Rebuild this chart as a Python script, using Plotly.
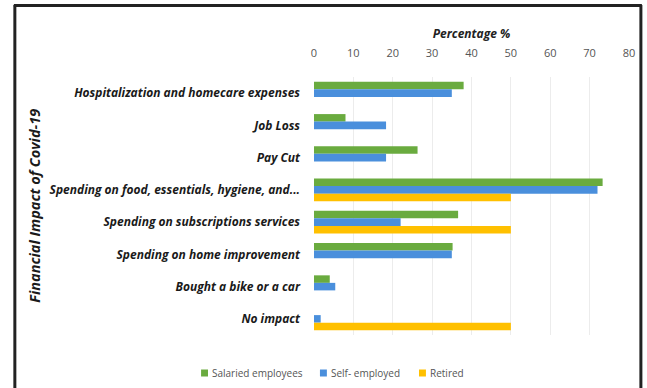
import plotly.graph_objects as go

categories = [
    "Hospitalization and homecare expenses",
    "Job Loss",
    "Pay Cut",
    "Spending on food, essentials, hygiene, and...",
    "Spending on subscriptions services",
    "Spending on home improvement",
    "Bought a bike or a car",
    "No impact",
]
salaried = [38, 8, 26.3, 73.3, 36.6, 35.2, 4, 0]
self_employed = [35, 18.3, 18.3, 72, 22, 35, 5.4, 1.7]
retired = [0, 0, 0, 50, 50, 0, 0, 50]
x_ticks = [0, 10, 20, 30, 40, 50, 60, 70, 80]

series_names = ["Salaried employees", "Self- employed", "Retired"]
series_values = [salaried, self_employed, retired]
series_colors = ["#6aab3f", "#4a8fdc", "#ffc000"]

fig = go.Figure()
for name, vals, color in zip(series_names, series_values, series_colors):
    fig.add_trace(go.Bar(
        y=categories, x=vals, name=name, orientation="h",
        marker=dict(color=color, line=dict(width=0)),
        showlegend=False,
    ))

W, H = 647, 388
ml, mr, mt, mb = 314, 15, 77, 53
pw, ph = W - ml - mr, H - mt - mb

def px(x):
    return (x - ml) / pw

def py(y):
    return (H - mb - y) / ph

fig.update_layout(
    width=W, height=H,
    margin=dict(l=ml, r=mr, t=mt, b=mb),
    paper_bgcolor="white", plot_bgcolor="white",
    barmode="group", bargap=0.30, bargroupgap=0,
    font=dict(family="Open Sans", color="#222"),
    xaxis=dict(
        side="top", range=[0, 80], tickvals=x_ticks,
        showgrid=True, gridcolor="#ececec", gridwidth=1,
        zeroline=False, showline=False, ticks="",
        ticklabelstandoff=17,
        tickfont=dict(size=11, color="#555", family="Open Sans"),
        title=dict(text="<b><i>Percentage %</i></b>",
                   font=dict(size=12, color="#222"), standoff=3),
    ),
    yaxis=dict(
        autorange="reversed", showgrid=False, zeroline=False,
        showline=False, ticks="",
        ticklabelstandoff=13,
        tickfont=dict(size=12, color="#1a1a1a", family="Open Sans"),
        tickprefix="<b><i>", ticksuffix="</i></b>",
    ),
    showlegend=False,
)

fig.add_annotation(
    xref="paper", yref="paper", x=px(31), y=py(206),
    xanchor="center", yanchor="middle",
    text="<b><i>Financial Impact of Covid-19</i></b>",
    textangle=-90, showarrow=False,
    font=dict(size=14.5, color="#1a1a1a"),
)

# legend row below the plot: small colour squares with labels
legend_x = [200, 320, 420]
legend_y = 373
for lx, name, color in zip(legend_x, series_names, series_colors):
    fig.add_shape(type="rect", xref="paper", yref="paper",
                  x0=px(lx), x1=px(lx + 7), y0=py(legend_y + 3.5), y1=py(legend_y - 3.5),
                  fillcolor=color, line=dict(width=0))
    fig.add_annotation(xref="paper", yref="paper", x=px(lx + 9), y=py(legend_y),
                       xanchor="left", yanchor="middle", showarrow=False,
                       text=name, font=dict(size=10, color="#555"))

# outer frame
frame = dict(color="#222", width=3)
fig.add_shape(type="line", xref="paper", yref="paper",
              x0=px(12), x1=px(12), y0=py(5), y1=py(400), line=frame)
fig.add_shape(type="line", xref="paper", yref="paper",
              x0=px(11), x1=px(645), y0=py(5.5), y1=py(5.5), line=frame)
fig.add_shape(type="line", xref="paper", yref="paper",
              x0=px(644), x1=px(644), y0=py(5), y1=py(400), line=frame)

fig.write_html("out.html")
